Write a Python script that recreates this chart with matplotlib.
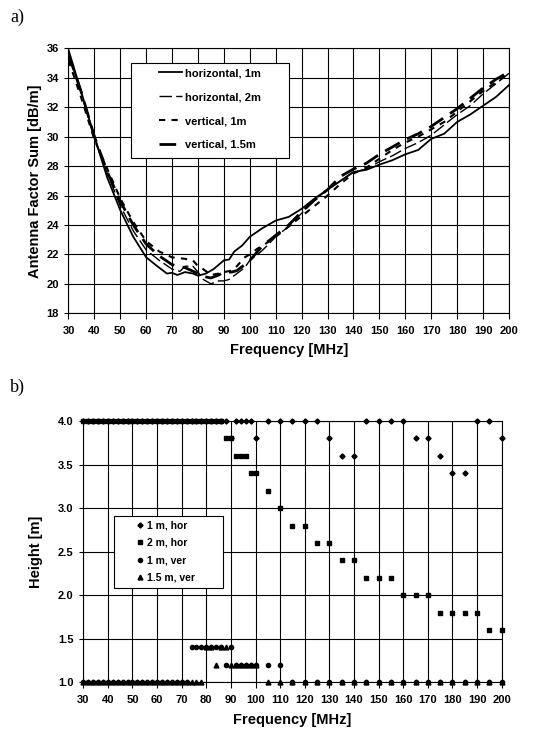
import numpy as np
import matplotlib
matplotlib.use("Agg")
import matplotlib.pyplot as plt
from matplotlib.patches import Rectangle

plt.rcParams["font.family"] = ["Liberation Sans", "DejaVu Sans"]
plt.rcParams["font.weight"] = "bold"

# ──────────────────────────────────────────────
# Daten Plot a) — Antenna Factor Sum [dB/m]
# ──────────────────────────────────────────────
f_h1 = [30, 35, 40, 45, 50, 55, 60, 65, 68, 70, 72, 75, 78, 80, 83, 86, 88, 90, 92,
        94, 97, 100, 105, 110, 115, 120, 125, 130, 135, 140, 145, 150, 155, 160,
        165, 170, 175, 180, 185, 190, 195, 200]
af_h1 = [35.9, 33.0, 30.0, 27.2, 25.0, 23.2, 21.8, 21.1, 20.7, 20.75, 20.6, 20.8,
         20.7, 20.55, 20.7, 21.0, 21.3, 21.6, 21.65, 22.2, 22.6, 23.2, 23.8, 24.3,
         24.55, 25.1, 25.8, 26.4, 27.0, 27.6, 27.75, 28.1, 28.4, 28.8, 29.1, 29.85,
         30.2, 31.0, 31.5, 32.1, 32.7, 33.5]

f_h2 = [30, 35, 40, 45, 50, 55, 60, 65, 70, 73, 75, 78, 80, 82, 85, 88, 90, 92, 95,
        98, 100, 103, 105, 110, 115, 120, 125, 130, 135, 140, 145, 150, 155, 160,
        165, 170, 175, 180, 185, 190, 195, 200]
af_h2 = [35.6, 32.9, 30.0, 27.5, 25.3, 23.6, 22.3, 21.6, 21.0, 20.85, 21.2, 21.2,
         20.8, 20.3, 20.0, 20.2, 20.2, 20.3, 20.7, 21.1, 21.6, 22.0, 22.3, 23.2,
         23.9, 24.8, 25.7, 26.4, 27.0, 27.6, 27.8, 28.3, 28.7, 29.2, 29.6, 30.1,
         30.8, 31.5, 32.1, 32.9, 33.6, 34.3]

f_v1 = [30, 35, 40, 45, 50, 55, 60, 65, 70, 75, 78, 80, 82, 85, 88, 90, 93, 95, 98,
        100, 103, 105, 110, 115, 120, 125, 130, 135, 140, 145, 150, 155, 160, 165,
        170, 175, 180, 185, 190, 195, 200]
af_v1 = [35.2, 32.6, 29.8, 27.8, 25.8, 24.2, 22.9, 22.2, 21.8, 21.7, 21.6, 21.2,
         21.0, 20.6, 20.7, 20.8, 20.9, 21.2, 21.8, 22.0, 22.4, 22.6, 23.2, 23.9,
         24.6, 25.3, 26.0, 26.8, 27.5, 27.9, 28.5, 29.1, 29.6, 30.0, 30.5, 31.0,
         31.7, 32.4, 33.1, 33.7, 34.3]

f_v15 = [30, 35, 40, 45, 50, 55, 60, 65, 70, 75, 80, 82, 85, 88, 90, 93, 95, 98,
         100, 103, 105, 110, 115, 120, 125, 130, 135, 140, 145, 150, 155, 160, 165,
         170, 175, 180, 185, 190, 195, 200]
af_v15 = [35.6, 33.0, 30.0, 27.6, 25.6, 24.0, 22.7, 21.9, 21.3, 21.1, 20.7, 20.5,
          20.4, 20.6, 20.8, 20.8, 20.9, 21.3, 21.6, 22.2, 22.6, 23.3, 24.0, 24.9,
          25.7, 26.4, 27.3, 27.8, 28.2, 28.8, 29.3, 29.8, 30.2, 30.7, 31.3, 31.9,
          32.6, 33.3, 33.9, 34.4]

# ──────────────────────────────────────────────
# Daten Plot b) — Antennenhöhe [m]
# ──────────────────────────────────────────────
f_low = list(range(30, 102, 2))       # 30 ... 100 in 2-MHz-Schritten
f_high = list(range(105, 205, 5))     # 105 ... 200 in 5-MHz-Schritten
f_b = f_low + f_high

h_1m_hor = ([4.0] * 30 + [3.8, 4.0, 4.0, 4.0, 4.0, 3.8]
            + [4.0, 4.0, 4.0, 4.0, 4.0, 3.8, 3.6, 3.6, 4.0, 4.0, 4.0, 4.0,
               3.8, 3.8, 3.6, 3.4, 3.4, 4.0, 4.0, 3.8])
h_2m_hor = ([4.0] * 29 + [3.8, 3.8, 3.6, 3.6, 3.6, 3.4, 3.4]
            + [3.2, 3.0, 2.8, 2.8, 2.6, 2.6, 2.4, 2.4, 2.2, 2.2, 2.2, 2.0,
               2.0, 2.0, 1.8, 1.8, 1.8, 1.8, 1.6, 1.6])
h_1m_ver = ([1.0] * 22 + [1.4, 1.4, 1.4, 1.4, 1.4, 1.4, 1.4, 1.2, 1.4,
                          1.2, 1.2, 1.2, 1.2, 1.2]
            + [1.2, 1.2] + [1.0] * 18)
h_15m_ver = ([1.0] * 25 + [1.4, 1.4, 1.2, 1.4, 1.4, 1.2, 1.2, 1.2, 1.2, 1.2, 1.2]
             + [1.0] * 20)

# ──────────────────────────────────────────────
# Figur
# ──────────────────────────────────────────────
fig = plt.figure(figsize=(5.55, 7.33), dpi=100)
ax_a = fig.add_axes([0.1234, 0.5726, 0.7936, 0.3614])
ax_b = fig.add_axes([0.150, 0.0692, 0.754, 0.3564])

fig.text(0.018, 0.988, "a)", family="Liberation Serif", fontsize=13,
         fontweight="normal", va="top")
fig.text(0.018, 0.484, "b)", family="Liberation Serif", fontsize=13,
         fontweight="normal", va="top")

# Plot a)
ax_a.plot(f_h1, af_h1, color="black", lw=1.3, label="horizontal, 1m")
ax_a.plot(f_h2, af_h2, color="black", lw=1.0, dashes=(9, 3), label="horizontal, 2m")
ax_a.plot(f_v1, af_v1, color="black", lw=1.5, dashes=(3, 3), label="vertical, 1m")
ax_a.plot(f_v15, af_v15, color="black", lw=2.0, dashes=(6, 3), label="vertical, 1.5m")

ax_a.set_xlim(30, 200)
ax_a.set_ylim(18, 36)
ax_a.set_xticks(np.arange(30, 201, 10))
ax_a.set_yticks(np.arange(18, 37, 2))
ax_a.set_xlabel("Frequency [MHz]", fontsize=10.5, fontweight="bold", labelpad=5)
ax_a.set_ylabel("Antenna Factor Sum [dB/m]", fontsize=10.5, fontweight="bold",
                labelpad=3)
ax_a.add_patch(Rectangle((0.142, 0.586), 0.3586, 0.3585, transform=ax_a.transAxes,
                         facecolor="white", edgecolor="black", lw=0.8, zorder=3))
ax_a.legend(loc="upper left", bbox_to_anchor=(0.205, 0.925), fontsize=8,
            frameon=False, handlelength=2.1, handletextpad=0.25,
            labelspacing=1.25, borderpad=0, borderaxespad=0).set_zorder(5)

# Plot b)
ax_b.plot(f_b, h_1m_hor, ls="none", marker="D", ms=2.6, color="black",
          label="1 m, hor", clip_on=False)
ax_b.plot(f_b, h_2m_hor, ls="none", marker="s", ms=3.5, color="black",
          label="2 m, hor", clip_on=False)
ax_b.plot(f_b, h_1m_ver, ls="none", marker="o", ms=3.0, color="black",
          label="1 m, ver", clip_on=False)
ax_b.plot(f_b, h_15m_ver, ls="none", marker="^", ms=3.5, color="black",
          label="1.5 m, ver", clip_on=False)

ax_b.set_xlim(30, 200)
ax_b.set_ylim(1.0, 4.0)
ax_b.set_xticks(np.arange(30, 201, 10))
ax_b.set_yticks(np.arange(1.0, 4.01, 0.5))
ax_b.set_yticklabels([f"{v:.1f}" for v in np.arange(1.0, 4.01, 0.5)])
ax_b.set_xlabel("Frequency [MHz]", fontsize=10.5, fontweight="bold", labelpad=6)
ax_b.set_ylabel("Height [m]", fontsize=10.5, fontweight="bold", labelpad=11)
ax_b.add_patch(Rectangle((0.0734, 0.361), 0.2606, 0.2754, transform=ax_b.transAxes,
                         facecolor="white", edgecolor="black", lw=0.8, zorder=3))
ax_b.legend(loc="upper left", bbox_to_anchor=(0.125, 0.62), fontsize=7.5,
            frameon=False, handlelength=0.8, handletextpad=0.3,
            labelspacing=0.72, borderpad=0, borderaxespad=0).set_zorder(5)

for ax in (ax_a, ax_b):
    ax.grid(True, color="black", lw=0.8)
    ax.set_axisbelow(True)
    for sp in ax.spines.values():
        sp.set_linewidth(0.8)
    ax.tick_params(labelsize=8, width=0.8, length=3, pad=4)
    ax.tick_params(axis="x", length=4, pad=5)
    for lbl in ax.get_xticklabels() + ax.get_yticklabels():
        lbl.set_fontweight("bold")

fig.savefig("out.png", dpi=100)
